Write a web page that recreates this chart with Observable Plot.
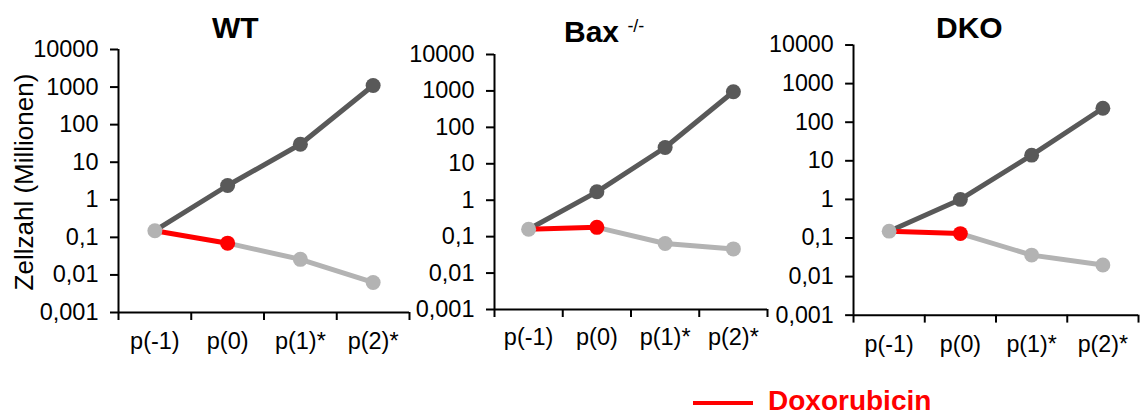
<!DOCTYPE html>
<html>
<head>
<meta charset="utf-8">
<script src="https://cdn.jsdelivr.net/npm/d3@7"></script>
<script src="https://cdn.jsdelivr.net/npm/@observablehq/plot@0.6"></script>
<style>
  html, body { margin: 0; padding: 0; background: #fff; }
  #chart { position: relative; width: 1140px; height: 415px; overflow: hidden; background: #fff;
           font-family: "Liberation Sans", Arial, sans-serif; color: #000; }
  .panel { position: absolute; top: 0; }
  .title { position: absolute; font-size: 30px; line-height: 30px; font-weight: bold; white-space: nowrap; }
  .sup { font-size: 18px; font-weight: normal; vertical-align: 10px; }
  .ylabel { position: absolute; width: 300px; height: 26px; font-size: 26px; line-height: 26px;
            text-align: center; white-space: nowrap; transform: rotate(-90deg); }
  .legend-line { position: absolute; height: 4px; background: #ff0000; }
  .legend-text { position: absolute; font-size: 28px; line-height: 24px; font-weight: bold; color: #ff0000; white-space: nowrap; }
</style>
</head>
<body>
<div id="chart"></div>
<script>
// ---- data ----
const categories = ["p(-1)", "p(0)", "p(1)*", "p(2)*"];
const panelNames = ["WT", "Bax", "DKO"];
const untreatedWT  = [0.15, 2.4, 30, 1100];
const doxoWT       = [0.15, 0.07, 0.026, 0.0063];
const untreatedBax = [0.16, 1.7, 28, 950];
const doxoBax      = [0.16, 0.18, 0.065, 0.046];
const untreatedDKO = [0.15, 1.0, 14, 230];
const doxoDKO      = [0.15, 0.13, 0.036, 0.02];
const yTicks = [0.001, 0.01, 0.1, 1, 10, 100, 1000, 10000];
const yLabel = "Zellzahl (Millionen)";
const legendLabel = "Doxorubicin";

const series = {
  WT:  {untreated: untreatedWT,  doxo: doxoWT},
  Bax: {untreated: untreatedBax, doxo: doxoBax},
  DKO: {untreated: untreatedDKO, doxo: doxoDKO}
};

// ---- layout (styles only) ----
const layout = {
  WT:  {left: 0,   width: 415, height: 370, marginLeft: 118, marginRight: 6,  marginTop: 49, marginBottom: 58, titleLeft: 212, titleTop: 13, labelPad: 20},
  Bax: {left: 380, width: 390, height: 370, marginLeft: 114, marginRight: 3,  marginTop: 54, marginBottom: 61, titleLeft: 564, titleTop: 10.5, labelPad: 19},
  DKO: {left: 760, width: 384, height: 370, marginLeft: 94,  marginRight: 2,  marginTop: 45, marginBottom: 52, titleLeft: 936, titleTop: 13, labelPad: 21}
};

const DARK = "#595959", LIGHT = "#b3b3b3", RED = "#ff0000";
const chart = document.getElementById("chart");
const fmtY = d => String(d).replace(".", ",");
const bounds = d3.range(categories.length + 1);
const mids = categories.map((c, i) => i + 0.5);

for (const name of panelNames) {
  const L = layout[name];
  const rows = categories.map((c, i) => ({i, cat: c, untreated: series[name].untreated[i], doxo: series[name].doxo[i]}));
  const X = d => d.i + 0.5;
  const plot = Plot.plot({
    width: L.width,
    height: L.height,
    marginLeft: L.marginLeft,
    marginRight: L.marginRight,
    marginTop: L.marginTop,
    marginBottom: L.marginBottom,
    style: {background: "transparent", overflow: "visible", fontFamily: "'Liberation Sans', Arial, sans-serif", fontSize: "23.5px", color: "#000"},
    x: {type: "linear", domain: [0, categories.length]},
    y: {type: "log", domain: [yTicks[0], yTicks[yTicks.length - 1]]},
    marks: [
      Plot.axisY({ticks: yTicks, tickFormat: fmtY, tickSize: 8, tickPadding: 12, strokeWidth: 2, label: null, fontSize: 23.5}),
      Plot.axisX({ticks: bounds, tickFormat: () => "", tickSize: 8, strokeWidth: 2, label: null}),
      Plot.axisX({ticks: mids, tickFormat: d => categories[Math.floor(d)], tickSize: 0, tickPadding: L.labelPad, label: null, fontSize: 23.5}),
      Plot.ruleX([0], {stroke: "#000", strokeWidth: 2}),
      Plot.ruleY([yTicks[0]], {stroke: "#000", strokeWidth: 2}),
      Plot.line(rows, {x: X, y: "untreated", stroke: DARK, strokeWidth: 5}),
      Plot.line(rows.slice(1), {x: X, y: "doxo", stroke: LIGHT, strokeWidth: 5}),
      Plot.dot(rows.slice(1), {x: X, y: "untreated", r: 7.5, fill: DARK}),
      Plot.dot(rows.slice(2), {x: X, y: "doxo", r: 7.5, fill: LIGHT}),
      Plot.line(rows.slice(0, 2), {x: X, y: "doxo", stroke: RED, strokeWidth: 5}),
      Plot.dot(rows.slice(1, 2), {x: X, y: "doxo", r: 7.5, fill: RED}),
      Plot.dot(rows.slice(0, 1), {x: X, y: "doxo", r: 7.5, fill: LIGHT})
    ]
  });
  const wrap = document.createElement("div");
  wrap.className = "panel";
  wrap.style.left = L.left + "px";
  wrap.appendChild(plot);
  chart.appendChild(wrap);

  const t = document.createElement("div");
  t.className = "title";
  t.style.left = L.titleLeft + "px";
  t.style.top = L.titleTop + "px";
  if (name === "Bax") {
    t.innerHTML = "Bax <span class='sup'>-/-</span>";
  } else {
    t.textContent = name;
  }
  chart.appendChild(t);
}

const yl = document.createElement("div");
yl.className = "ylabel";
yl.textContent = yLabel;
yl.style.left = (24 - 150) + "px";
yl.style.top = (182 - 13) + "px";
chart.appendChild(yl);

const ll = document.createElement("div");
ll.className = "legend-line";
ll.style.left = "693px"; ll.style.top = "401px"; ll.style.width = "60px";
chart.appendChild(ll);

const lt = document.createElement("div");
lt.className = "legend-text";
lt.textContent = legendLabel;
lt.style.left = "768px"; lt.style.top = "389px";
chart.appendChild(lt);
</script>
</body>
</html>
